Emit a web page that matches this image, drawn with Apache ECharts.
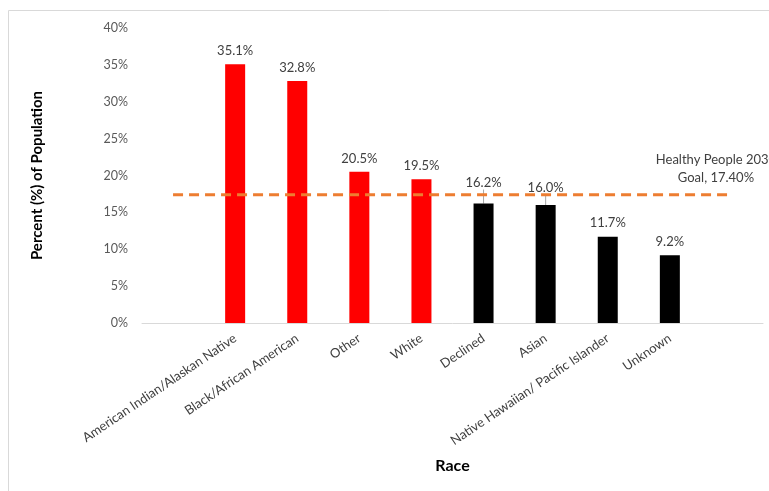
<!DOCTYPE html>
<html>
<head>
<meta charset="utf-8">
<style>
  html, body { margin: 0; padding: 0; background: #fff; }
  #chart { width: 769px; height: 491px; }
</style>
<script src="https://cdn.jsdelivr.net/npm/echarts@6/dist/echarts.min.js"></script>
</head>
<body>
<div id="chart"></div>
<script>
// Race categories (blank slots pad both ends of the axis)
const categories = ['', 'American Indian/Alaskan Native', 'Black/African American', 'Other', 'White',
  'Declined', 'Asian', 'Native Hawaiian/ Pacific Islander', 'Unknown', ''];
// Percent of population per race
const percentValues = [null, 35.1, 32.8, 20.5, 19.5, 16.2, 16.0, 11.7, 9.2, null];
// Races above the goal are drawn red, the rest black
const aboveGoal = [false, true, true, true, true, false, false, false, false, false];
// Labels lifted off their bars get a short leader line
const labelLift = [0, 0, 0, 0, 0, -7, -4, 0, 0, 0];
// Healthy People 2030 goal
const goalValue = 17.4;
const goalText = ['Healthy People 2030', 'Goal, 17.40%'];
const yTicks = [0, 5, 10, 15, 20, 25, 30, 35, 40];

const FONT = 'Lato, "Open Sans", sans-serif';
const chart = echarts.init(document.getElementById('chart'));

const barData = percentValues.map((v, i) => v === null ? '-' : {
  value: v,
  itemStyle: { color: aboveGoal[i] ? '#ff0000' : '#000000' },
  labelLine: { show: labelLift[i] !== 0 }
});

const goalData = categories.map((c, i) => i === categories.length - 1 ? {
  value: goalValue,
  label: {
    show: true,
    position: 'top',
    offset: [-16, -3],
    align: 'center',
    formatter: goalText.join('\n'),
    lineHeight: 18,
    fontSize: 13,
    color: '#404040',
    fontFamily: FONT
  }
} : goalValue);

chart.setOption({
  animation: false,
  graphic: [{
    type: 'rect',
    shape: { x: 8.5, y: 10.5, width: 800, height: 520 },
    style: { fill: 'none', stroke: '#d9d9d9', lineWidth: 1 },
    silent: true,
    z: -1
  }],
  grid: { left: 142, right: 6, top: 28, bottom: 168, containLabel: false },
  xAxis: {
    type: 'category',
    data: categories,
    name: 'Race',
    nameLocation: 'middle',
    nameGap: 135,
    nameTextStyle: { fontSize: 16, fontWeight: 'bold', color: '#000', fontFamily: FONT },
    axisLine: { lineStyle: { color: '#d9d9d9', width: 1 } },
    axisTick: { show: false },
    axisLabel: {
      interval: 0,
      rotate: 34,
      margin: 14,
      fontSize: 13,
      color: '#404040',
      fontFamily: FONT
    }
  },
  yAxis: {
    type: 'value',
    min: 0,
    max: 40,
    interval: 5,
    name: 'Percent (%) of Population',
    nameLocation: 'middle',
    nameGap: 97,
    nameRotate: 90,
    nameTextStyle: { fontSize: 15, fontWeight: 'bold', color: '#000', fontFamily: FONT },
    axisLine: { show: false },
    axisTick: { show: false },
    splitLine: { show: false },
    axisLabel: {
      margin: 14,
      fontSize: 12.5,
      color: '#595959',
      fontFamily: FONT,
      formatter: v => yTicks.includes(v) ? v + '%' : ''
    }
  },
  series: [{
    type: 'bar',
    data: barData,
    barWidth: 20,
    label: {
      show: true,
      position: 'top',
      distance: 7,
      fontSize: 13,
      color: '#404040',
      fontFamily: FONT,
      formatter: p => p.value.toFixed(1) + '%'
    },
    labelLayout: p => ({ dy: labelLift[p.dataIndex] }),
    labelLine: { show: false, lineStyle: { color: '#a6a6a6', width: 1 } },
    z: 2
  }, {
    type: 'line',
    data: goalData,
    symbol: 'circle',
    symbolSize: 0.01,
    itemStyle: { color: '#ed7d31' },
    lineStyle: { color: '#ed7d31', width: 3, type: [10, 6] },
    z: 3
  }]
});
</script>
</body>
</html>
